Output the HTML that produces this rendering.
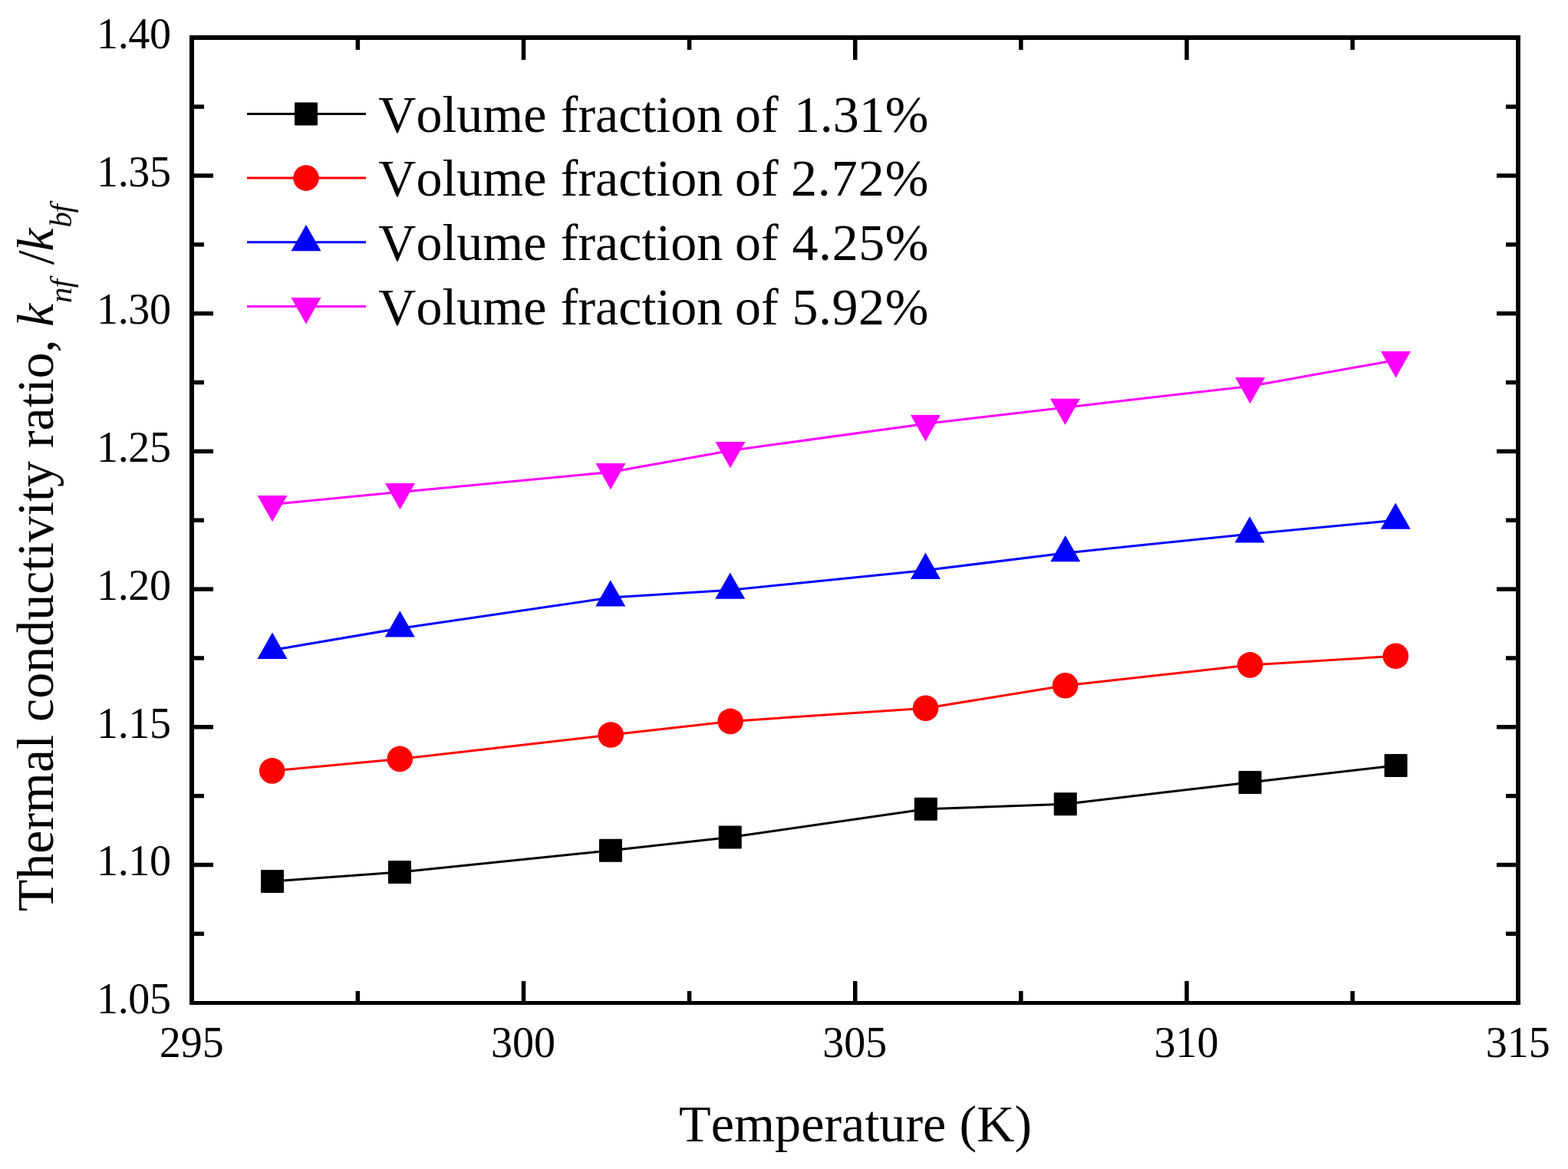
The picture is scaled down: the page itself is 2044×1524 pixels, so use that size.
<!DOCTYPE html>
<html><head><meta charset="utf-8"><title>Thermal conductivity ratio vs temperature</title>
<style>html,body{margin:0;padding:0;background:#fff;}svg{display:block;}text{font-kerning:none;}</style></head>
<body><svg width="2044" height="1524" viewBox="0 0 2044 1524">
<rect width="2044" height="1524" fill="#fff"/>
<g stroke="#000" fill="none" stroke-linecap="butt">
<line x1="250" y1="46" x2="250" y2="1310" stroke-width="6"/>
<line x1="1979" y1="46" x2="1979" y2="1310" stroke-width="5.8"/>
<line x1="247" y1="49" x2="1982" y2="49" stroke-width="5.8"/>
<line x1="247" y1="1307.5" x2="1982" y2="1307.5" stroke-width="5.2"/>
</g>
<g stroke="#000" fill="none" stroke-width="5.5">
<line x1="253" y1="1217.35" x2="266" y2="1217.35"/>
<line x1="1976" y1="1217.35" x2="1963" y2="1217.35"/>
<line x1="253" y1="1127.50" x2="278" y2="1127.50"/>
<line x1="1976" y1="1127.50" x2="1951" y2="1127.50"/>
<line x1="253" y1="1037.65" x2="266" y2="1037.65"/>
<line x1="1976" y1="1037.65" x2="1963" y2="1037.65"/>
<line x1="253" y1="947.80" x2="278" y2="947.80"/>
<line x1="1976" y1="947.80" x2="1951" y2="947.80"/>
<line x1="253" y1="857.95" x2="266" y2="857.95"/>
<line x1="1976" y1="857.95" x2="1963" y2="857.95"/>
<line x1="253" y1="768.10" x2="278" y2="768.10"/>
<line x1="1976" y1="768.10" x2="1951" y2="768.10"/>
<line x1="253" y1="678.25" x2="266" y2="678.25"/>
<line x1="1976" y1="678.25" x2="1963" y2="678.25"/>
<line x1="253" y1="588.40" x2="278" y2="588.40"/>
<line x1="1976" y1="588.40" x2="1951" y2="588.40"/>
<line x1="253" y1="498.55" x2="266" y2="498.55"/>
<line x1="1976" y1="498.55" x2="1963" y2="498.55"/>
<line x1="253" y1="408.70" x2="278" y2="408.70"/>
<line x1="1976" y1="408.70" x2="1951" y2="408.70"/>
<line x1="253" y1="318.85" x2="266" y2="318.85"/>
<line x1="1976" y1="318.85" x2="1963" y2="318.85"/>
<line x1="253" y1="229.00" x2="278" y2="229.00"/>
<line x1="1976" y1="229.00" x2="1951" y2="229.00"/>
<line x1="253" y1="139.15" x2="266" y2="139.15"/>
<line x1="1976" y1="139.15" x2="1963" y2="139.15"/>
<line x1="466.38" y1="1305" x2="466.38" y2="1292"/>
<line x1="466.38" y1="52" x2="466.38" y2="65"/>
<line x1="682.50" y1="1305" x2="682.50" y2="1279"/>
<line x1="682.50" y1="52" x2="682.50" y2="78"/>
<line x1="898.62" y1="1305" x2="898.62" y2="1292"/>
<line x1="898.62" y1="52" x2="898.62" y2="65"/>
<line x1="1114.75" y1="1305" x2="1114.75" y2="1279"/>
<line x1="1114.75" y1="52" x2="1114.75" y2="78"/>
<line x1="1330.88" y1="1305" x2="1330.88" y2="1292"/>
<line x1="1330.88" y1="52" x2="1330.88" y2="65"/>
<line x1="1547.00" y1="1305" x2="1547.00" y2="1279"/>
<line x1="1547.00" y1="52" x2="1547.00" y2="78"/>
<line x1="1763.12" y1="1305" x2="1763.12" y2="1292"/>
<line x1="1763.12" y1="52" x2="1763.12" y2="65"/>
</g>
<g font-family="Liberation Serif, Times New Roman, serif" font-size="56" fill="#000" text-anchor="end" letter-spacing="-0.4">
<text x="222.5" y="1320.9">1.05</text>
<text x="222.5" y="1141.2">1.10</text>
<text x="222.5" y="961.5">1.15</text>
<text x="222.5" y="781.8">1.20</text>
<text x="222.5" y="602.1">1.25</text>
<text x="222.5" y="422.4">1.30</text>
<text x="222.5" y="242.7">1.35</text>
<text x="222.5" y="63.0">1.40</text>
</g>
<g font-family="Liberation Serif, Times New Roman, serif" font-size="56" fill="#000" text-anchor="middle">
<text x="249.8" y="1377.5">295</text>
<text x="682.1" y="1377.5">300</text>
<text x="1114.3" y="1377.5">305</text>
<text x="1546.6" y="1377.5">310</text>
<text x="1978.8" y="1377.5">315</text>
</g>
<text font-family="Liberation Serif, Times New Roman, serif" font-size="68.2" x="885.1" y="1488.3">Temperature (K)</text>
<g font-family="Liberation Serif, Times New Roman, serif" font-size="68" transform="translate(68.9,1188.3) rotate(-90)">
<text x="0" y="0">Thermal conductivity ratio,</text>
<text x="762.4" y="0" font-style="italic">k</text>
<text x="793.3" y="24.1" font-style="italic" font-size="40.5">n</text>
<text x="813.0" y="24.1" font-style="italic" font-size="40.5">f</text>
<text x="843.1" y="0">/</text>
<text x="860.5" y="0" font-style="italic">k</text>
<text x="891.7" y="24.1" font-style="italic" font-size="40.5">b</text>
<text x="910.8" y="24.1" font-style="italic" font-size="40.5">f</text>
</g>
<polyline points="355,1149.1 521,1136.9 796,1108.8 951.8,1091.5 1206.9,1054.7 1388.8,1048.3 1629.5,1019.9 1819.6,997.9" fill="none" stroke="#000" stroke-width="3" stroke-linejoin="round"/>
<rect x="340.0" y="1134.1" width="30" height="30" rx="1" fill="#000"/>
<rect x="506.0" y="1121.9" width="30" height="30" rx="1" fill="#000"/>
<rect x="781.0" y="1093.8" width="30" height="30" rx="1" fill="#000"/>
<rect x="936.8" y="1076.5" width="30" height="30" rx="1" fill="#000"/>
<rect x="1191.9" y="1039.7" width="30" height="30" rx="1" fill="#000"/>
<rect x="1373.8" y="1033.3" width="30" height="30" rx="1" fill="#000"/>
<rect x="1614.5" y="1004.9" width="30" height="30" rx="1" fill="#000"/>
<rect x="1804.6" y="982.9" width="30" height="30" rx="1" fill="#000"/>
<polyline points="354.7,1004.9 521.3,989.4 796.2,958.0 952.1,940.4 1206.6,923.2 1388.6,893.8 1629.6,866.9 1819.4,855.3" fill="none" stroke="#f00" stroke-width="3" stroke-linejoin="round"/>
<circle cx="354.7" cy="1004.9" r="16.8" fill="#f00"/>
<circle cx="521.3" cy="989.4" r="16.8" fill="#f00"/>
<circle cx="796.2" cy="958.0" r="16.8" fill="#f00"/>
<circle cx="952.1" cy="940.4" r="16.8" fill="#f00"/>
<circle cx="1206.6" cy="923.2" r="16.8" fill="#f00"/>
<circle cx="1388.6" cy="893.8" r="16.8" fill="#f00"/>
<circle cx="1629.6" cy="866.9" r="16.8" fill="#f00"/>
<circle cx="1819.4" cy="855.3" r="16.8" fill="#f00"/>
<polyline points="355,847.5 521.3,819.2 795.8,779.1 951.8,769.3 1206.5,743.5 1388.8,720.9 1629.1,696.2 1819.2,678.3" fill="none" stroke="#00f" stroke-width="3" stroke-linejoin="round"/>
<polygon points="355.0,824.6 374.5,858.9 335.5,858.9" fill="#00f"/>
<polygon points="521.3,796.3 540.8,830.6 501.8,830.6" fill="#00f"/>
<polygon points="795.8,756.2 815.3,790.5 776.3,790.5" fill="#00f"/>
<polygon points="951.8,746.4 971.3,780.7 932.3,780.7" fill="#00f"/>
<polygon points="1206.5,720.6 1226.0,754.9 1187.0,754.9" fill="#00f"/>
<polygon points="1388.8,698.0 1408.3,732.3 1369.3,732.3" fill="#00f"/>
<polygon points="1629.1,673.3 1648.6,707.6 1609.6,707.6" fill="#00f"/>
<polygon points="1819.2,655.4 1838.7,689.7 1799.7,689.7" fill="#00f"/>
<polyline points="355,657.4 521.5,641.4 796,615.4 952,587.4 1206.5,552.5 1388.5,531.2 1629.6,503.4 1819.5,469.5" fill="none" stroke="#f0f" stroke-width="3" stroke-linejoin="round"/>
<polygon points="335.5,646.0 374.5,646.0 355.0,680.3" fill="#f0f"/>
<polygon points="502.0,630.0 541.0,630.0 521.5,664.3" fill="#f0f"/>
<polygon points="776.5,604.0 815.5,604.0 796.0,638.3" fill="#f0f"/>
<polygon points="932.5,576.0 971.5,576.0 952.0,610.3" fill="#f0f"/>
<polygon points="1187.0,541.1 1226.0,541.1 1206.5,575.4" fill="#f0f"/>
<polygon points="1369.0,519.8 1408.0,519.8 1388.5,554.1" fill="#f0f"/>
<polygon points="1610.1,492.0 1649.1,492.0 1629.6,526.3" fill="#f0f"/>
<polygon points="1800.0,458.1 1839.0,458.1 1819.5,492.4" fill="#f0f"/>
<line x1="322" y1="148.4" x2="477" y2="148.4" stroke="#000" stroke-width="3"/>
<rect x="384.0" y="133.4" width="30" height="30" rx="1" fill="#000"/>
<text font-family="Liberation Serif, Times New Roman, serif" font-size="68" y="171.7"><tspan x="493.3">Volume</tspan> <tspan x="730.8">fraction</tspan> <tspan x="958.1">of</tspan> <tspan x="1034.9" letter-spacing="-0.06">1.31%</tspan></text>
<line x1="322" y1="232.1" x2="477" y2="232.1" stroke="#f00" stroke-width="3"/>
<circle cx="399" cy="232.1" r="16.8" fill="#f00"/>
<text font-family="Liberation Serif, Times New Roman, serif" font-size="68" y="255.4"><tspan x="493.3">Volume</tspan> <tspan x="730.8">fraction</tspan> <tspan x="958.1">of</tspan> <tspan x="1030.9" letter-spacing="0.94">2.72%</tspan></text>
<line x1="322" y1="315.8" x2="477" y2="315.8" stroke="#00f" stroke-width="3"/>
<polygon points="399.0,292.9 418.5,327.2 379.5,327.2" fill="#00f"/>
<text font-family="Liberation Serif, Times New Roman, serif" font-size="68" y="339.1"><tspan x="493.3">Volume</tspan> <tspan x="730.8">fraction</tspan> <tspan x="958.1">of</tspan> <tspan x="1032.6" letter-spacing="0.53">4.25%</tspan></text>
<line x1="322" y1="399.5" x2="477" y2="399.5" stroke="#f0f" stroke-width="3"/>
<polygon points="379.5,388.1 418.5,388.1 399.0,422.4" fill="#f0f"/>
<text font-family="Liberation Serif, Times New Roman, serif" font-size="68" y="422.8"><tspan x="493.3">Volume</tspan> <tspan x="730.8">fraction</tspan> <tspan x="958.1">of</tspan> <tspan x="1032.4" letter-spacing="0.56">5.92%</tspan></text>
</svg></body></html>
